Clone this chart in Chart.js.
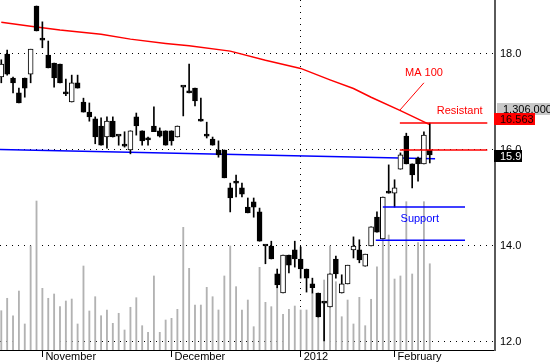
<!DOCTYPE html>
<html>
<head>
<meta charset="utf-8">
<script src="https://cdn.jsdelivr.net/npm/chart.js@4/dist/chart.umd.min.js"></script>
<style>
  html, body { margin: 0; padding: 0; background: #ffffff; }
  #wrap { width: 550px; height: 364px; position: relative; }
</style>
</head>
<body>
<div id="wrap"><canvas id="c" width="550" height="364"></canvas></div>
<script>
// ---------- data ----------
const OPEN  = [17.52,18.00,17.50,17.19,17.50,17.58,19.00,18.29,17.98,17.81,17.79,17.17,17.00,17.40,17.00,16.79,16.65,16.50,16.27,16.60,
               16.29,16.08,16.00,16.69,16.40,16.21,16.50,16.40,16.40,16.40,16.27,17.31,17.19,17.29,16.60,16.29,16.23,16.00,16.00,15.21,
               15.31,15.21,14.81,14.92,14.71,14.00,14.00,13.42,13.02,13.81,13.92,13.73,13.52,13.21,13.02,12.81,12.73,13.73,13.02,13.21,
               13.92,13.92,13.58,14.00,14.60,14.15,15.10,15.10,15.60,16.29,15.71,15.83,15.71,16.00];
const HIGH  = [17.88,18.08,17.52,17.29,17.50,18.10,19.00,18.67,18.27,17.81,17.79,17.48,17.56,17.56,17.08,16.98,16.69,16.67,16.69,16.69,
               16.29,16.38,16.40,16.77,16.40,16.27,16.90,16.46,16.40,16.40,16.50,17.31,17.79,17.29,17.08,16.58,16.27,16.19,16.00,15.31,
               15.48,15.31,15.00,15.00,14.79,14.00,14.10,13.52,13.81,13.81,14.10,13.98,13.52,13.33,13.02,12.81,13.42,13.79,13.40,13.60,
               14.19,14.13,13.83,14.40,14.71,15.02,15.69,15.38,15.94,16.35,15.71,15.85,16.38,16.56];
const LOW   = [17.40,17.56,17.19,16.98,17.10,17.40,18.48,18.13,17.71,17.31,17.40,17.13,17.00,17.29,16.79,16.60,16.13,16.10,16.04,16.27,
               16.10,16.06,15.92,16.31,16.10,16.10,16.38,16.27,16.10,16.10,16.27,16.71,17.19,16.92,16.60,16.25,16.10,15.85,15.42,14.71,
               15.02,15.02,14.69,14.60,14.10,13.63,13.73,13.13,13.02,13.44,13.56,13.33,13.04,13.02,12.52,12.02,12.73,13.33,13.02,13.21,
               13.75,13.65,13.58,14.00,14.29,14.15,15.10,14.81,15.60,15.71,15.21,15.35,15.71,15.73];
const CLOSE = [17.79,17.58,17.40,16.98,17.29,18.10,18.48,18.29,17.71,17.50,17.40,17.17,17.40,17.29,16.79,16.69,16.27,16.10,16.60,16.27,
               16.29,16.08,16.40,16.50,16.19,16.21,16.38,16.29,16.10,16.19,16.50,17.31,17.19,17.02,16.60,16.29,16.10,15.90,15.42,15.00,
               15.31,15.08,14.69,14.81,14.10,14.00,13.73,13.19,13.81,13.60,13.73,13.52,13.33,13.13,12.52,12.81,13.42,13.42,13.21,13.60,
               14.00,13.71,13.83,14.40,14.29,15.02,15.10,15.21,15.90,15.71,15.48,15.71,16.31,15.90];
const VOLUME = [595000,783000,519000,893000,394000,1575000,2256000,934000,783000,848000,656000,742000,772000,394000,1272000,591000,807000,519000,606000,404000,
                556000,303000,647000,792000,368000,268000,1121000,268000,454000,480000,616000,1858000,1237000,681000,681000,949000,807000,606000,1121000,1575000,
                959000,606000,757000,353000,1252000,722000,656000,959000,541000,616000,666000,606000,606000,859000,631000,1060000,1575000,1034000,504000,757000,
                394000,798000,368000,768000,1261000,1791000,1741000,1075000,1121000,2246000,1151000,1625000,2246000,1306000];

// 100-day moving average, read at selected sessions
const MA_DAYS   = [0, 5, 10, 17, 22, 28, 32, 39, 45, 51, 56, 60, 63, 68, 73];
const MA_VALUES = [18.66,18.58,18.50,18.41,18.31,18.22,18.17,18.06,17.87,17.70,17.46,17.28,17.10,16.82,16.53];

// long blue trend line (start / end)
const TREND_DAYS   = [-0.22, 73.9];
const TREND_VALUES = [16.01, 15.82];

// resistance and support levels
const RESIST_DAYS = [67.9, 82.8];
const RESIST_HI = 16.5625;
const RESIST_LO = 16.0;
const SUPPORT_HI_DAYS = [65.0, 79.0];
const SUPPORT_LO_DAYS = [63.8, 79.0];
const SUPPORT_HI = 14.81;
const SUPPORT_LO = 14.12;
const MA_POINTER_DAYS = [72.0, 67.9];
const MA_POINTER_VALUES = [17.40, 16.83];

// axes
const MONTH_TICKS  = [7, 29, 51, 67];
const MONTH_LABELS = ['November', 'December', '2012', 'February'];
const PRICE_TICKS  = [12, 14, 16, 18];
const X_MIN = -0.22, X_MAX = 84.11;
const Y_MIN = 11.8333, Y_MAX = 19.125;
const VOL_MAX = 5300000;

// text notes
const NOTES = [
  { text: 'MA 100',    x: 72.0, y: 17.60, color: '#ff0000' },
  { text: 'Resistant', x: 78.1, y: 16.82, color: '#ff0000' },
  { text: 'Support',   x: 71.3, y: 14.56, color: '#0000ff' }
];

// ---------- build ----------
const FONT = '"Liberation Sans", Arial, Helvetica, sans-serif';
const idx = OPEN.map((_, i) => i);
const wickData = idx.map(i => ({ x: i, y: [LOW[i], HIGH[i]] }));
const bodyData = idx.map(i => ({ x: i, y: [Math.min(OPEN[i], CLOSE[i]), Math.max(OPEN[i], CLOSE[i])] }));
const volData  = idx.map(i => ({ x: i, y: VOLUME[i] }));
const pts = (xs, ys) => xs.map((x, i) => ({ x: x, y: ys[i] }));
const hline = (xs, v) => xs.map(x => ({ x: x, y: v }));

const lineDs = (data, color, width, order) => ({
  type: 'line', data, borderColor: color, borderWidth: width, pointRadius: 0,
  fill: false, tension: 0, order, yAxisID: 'y'
});

const fmtThousands = v => String(v).replace(/\B(?=(\d{3})+(?!\d))/g, ',');
const noPad = s => { s.paddingTop = 0; s.paddingBottom = 0; s.paddingLeft = 0; s.paddingRight = 0; };

const overlay = {
  id: 'overlay',
  afterDraw(chart) {
    const { ctx, scales: { x, y }, chartArea } = chart;
    ctx.save();
    ctx.font = '11px ' + FONT;
    ctx.textBaseline = 'middle';
    ctx.textAlign = 'center';
    NOTES.forEach(n => {
      ctx.fillStyle = n.color;
      ctx.fillText(n.text, x.getPixelForValue(n.x), y.getPixelForValue(n.y));
    });
    // right-hand value boxes
    const last = OPEN.length - 1;
    const boxes = [
      { text: fmtThousands(VOLUME[last]), cy: y.getPixelForValue(16.854), left: chartArea.right + 2, w: 60, bg: '#c8c8c8', fg: '#000000' },
      { text: RESIST_HI.toFixed(3), cy: y.getPixelForValue(RESIST_HI) - 3.5, left: chartArea.right - 1, w: 41, bg: '#ff0000', fg: '#1a0000' },
      { text: CLOSE[last].toFixed(1), cy: y.getPixelForValue(CLOSE[last]) + 1.5, left: chartArea.right - 1, w: 28, bg: '#000000', fg: '#ffffff' }
    ];
    ctx.textAlign = 'left';
    boxes.forEach(b => {
      ctx.fillStyle = b.bg;
      ctx.fillRect(b.left, Math.round(b.cy - 6), b.w, 12);
      ctx.fillStyle = b.fg;
      ctx.fillText(b.text, b.left + 6, Math.round(b.cy) + 0.5);
    });
    ctx.restore();
  }
};

new Chart(document.getElementById('c'), {
  type: 'bar',
  data: {
    datasets: [
      // annotation lines on top
      lineDs(hline(RESIST_DAYS, RESIST_HI), '#ff0000', 1.5, 1),
      lineDs(hline(RESIST_DAYS, RESIST_LO), '#ff0000', 1.5, 1),
      lineDs(hline(SUPPORT_HI_DAYS, SUPPORT_HI), '#0000ff', 1.5, 1),
      lineDs(hline(SUPPORT_LO_DAYS, SUPPORT_LO), '#0000ff', 1.5, 1),
      lineDs(pts(MA_POINTER_DAYS, MA_POINTER_VALUES), '#ff0000', 1, 1),
      // candle bodies
      {
        type: 'bar', data: bodyData, yAxisID: 'y', order: 2, grouped: false,
        barThickness: 5, minBarLength: 2, borderSkipped: false, borderWidth: 1,
        borderColor: '#000000',
        backgroundColor: ctx => (CLOSE[ctx.dataIndex] > OPEN[ctx.dataIndex] ? '#ffffff' : '#000000')
      },
      // wicks
      {
        type: 'bar', data: wickData, yAxisID: 'y', order: 3, grouped: false,
        barThickness: 1, borderWidth: 0, backgroundColor: '#000000'
      },
      // moving average and trend line
      lineDs(pts(MA_DAYS, MA_VALUES), '#ff0000', 1.5, 4),
      lineDs(pts(TREND_DAYS, TREND_VALUES), '#0000ff', 1.5, 4),
      // volume
      {
        type: 'bar', data: volData, yAxisID: 'vol', order: 10, grouped: false,
        barThickness: 1.2, borderWidth: 0, backgroundColor: '#b2b2b2'
      }
    ]
  },
  options: {
    responsive: false,
    animation: false,
    events: [],
    layout: { padding: 0 },
    plugins: { legend: { display: false }, tooltip: { enabled: false } },
    scales: {
      x: {
        type: 'linear', position: 'bottom', min: X_MIN, max: X_MAX, offset: false,
        afterBuildTicks: s => { s.ticks = MONTH_TICKS.map(v => ({ value: v })); },
        afterFit: s => { s.height = 14; noPad(s); },
        ticks: {
          autoSkip: false, maxRotation: 0, minRotation: 0, align: 'start', labelOffset: 3, padding: -7,
          color: '#000000', font: { family: FONT, size: 11 },
          callback: v => MONTH_LABELS[MONTH_TICKS.indexOf(v)]
        },
        grid: {
          offset: false, lineWidth: 1, tickLength: 7, tickColor: '#000000', tickWidth: 1,
          color: c => (c.tick && c.tick.value === 51 ? '#000000' : 'rgba(0,0,0,0)')
        },
        border: { display: true, color: '#000000', width: 1, dash: [1, 5] }
      },
      y: {
        type: 'linear', position: 'right', min: Y_MIN, max: Y_MAX,
        afterBuildTicks: s => { s.ticks = PRICE_TICKS.map(v => ({ value: v })); },
        afterFit: s => { s.width = 55; noPad(s); },
        ticks: {
          padding: 5, color: '#000000', font: { family: FONT, size: 11 },
          callback: v => Number(v).toFixed(1)
        },
        grid: { drawTicks: false, color: '#000000', lineWidth: 1 },
        border: { display: true, color: '#5a5a5a', width: 2, dash: [1, 5] }
      },
      vol: { type: 'linear', display: false, min: 0, max: VOL_MAX, afterFit: noPad }
    }
  },
  plugins: [overlay]
});
</script>
</body>
</html>
